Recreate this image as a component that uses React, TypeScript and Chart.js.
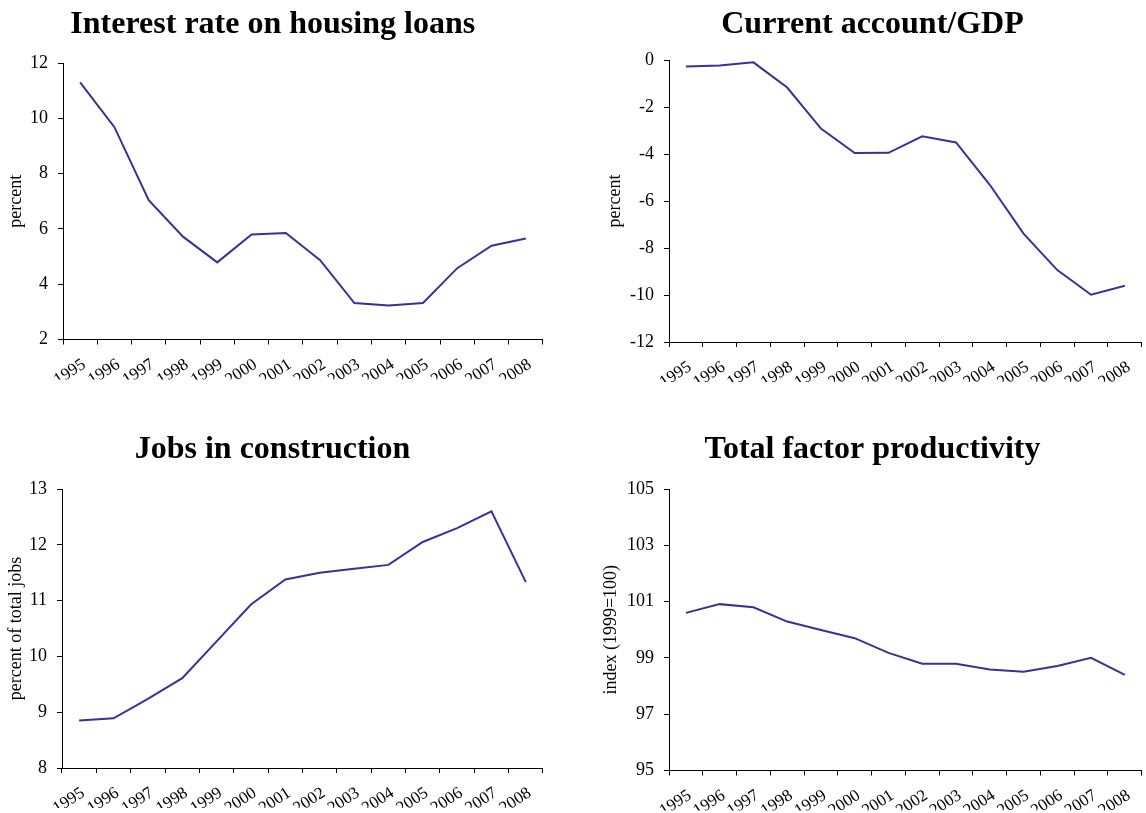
import { useEffect, useRef } from 'react';
import { Chart, registerables } from 'chart.js';

Chart.register(...registerables);

const years = ['1995', '1996', '1997', '1998', '1999', '2000', '2001', '2002', '2003', '2004', '2005', '2006', '2007', '2008'];

const interestRate = [11.3, 9.68, 7.04, 5.72, 4.79, 5.8, 5.85, 4.87, 3.32, 3.23, 3.32, 4.58, 5.39, 5.65];
const currentAccount = [-0.28, -0.23, -0.1, -1.17, -2.92, -3.96, -3.95, -3.25, -3.51, -5.31, -7.39, -8.94, -9.99, -9.61];
const constructionJobs = [8.85, 8.89, 9.24, 9.61, 10.27, 10.93, 11.38, 11.5, 11.57, 11.64, 12.05, 12.3, 12.6, 11.33];
const tfpIndex = [100.6, 100.91, 100.8, 100.29, 99.99, 99.7, 99.18, 98.79, 98.79, 98.59, 98.51, 98.71, 99.0, 98.4];

const titles = ['Interest rate on housing loans', 'Current account/GDP', 'Jobs in construction', 'Total factor productivity'];
const yLabels = ['percent', 'percent', 'percent of total jobs', 'index (1999=100)'];

const FONT = "'Liberation Serif', 'Times New Roman', serif";
const LINE_COLOR = '#333399';

type Panel = {
  title: string;
  yLabel: string;
  data: number[];
  yMin: number;
  yMax: number;
  yStep: number;
  cx: number; cy: number; cw: number; ch: number;
  left: number; right: number; top: number; bottom: number;
  titleTop: number;
  yTitlePad: number;
};

const panels: Panel[] = [
  { title: titles[0], yLabel: yLabels[0], data: interestRate, yMin: 2, yMax: 12, yStep: 2,
    cx: 0, cy: 0, cw: 547, ch: 406, left: 63, right: 545.5, top: 63, bottom: 339.5, titleTop: 6, yTitlePad: 5 },
  { title: titles[1], yLabel: yLabels[1], data: currentAccount, yMin: -12, yMax: 0, yStep: 2,
    cx: 600, cy: 0, cw: 546, ch: 406, left: 669, right: 1145, top: 60, bottom: 342, titleTop: 6, yTitlePad: 4 },
  { title: titles[2], yLabel: yLabels[2], data: constructionJobs, yMin: 8, yMax: 13, yStep: 1,
    cx: 0, cy: 406, cw: 547, ch: 407, left: 62, right: 545, top: 489, bottom: 768, titleTop: 25, yTitlePad: 5 },
  { title: titles[3], yLabel: yLabels[3], data: tfpIndex, yMin: 95, yMax: 105, yStep: 2,
    cx: 600, cy: 406, cw: 546, ch: 407, left: 669, right: 1145, top: 489, bottom: 770.5, titleTop: 25, yTitlePad: 0.5 },
];

const TITLE_SIZE = 32;
const TITLE_LH = TITLE_SIZE * 1.2;
const X_AXIS_H = 40;

function ChartPanel({ p }: { p: Panel }) {
  const ref = useRef<HTMLCanvasElement | null>(null);
  useEffect(() => {
    if (!ref.current) return;
    const yWidth = p.left - p.cx;
    const padRight = p.cx + p.cw - p.right;
    const padBottom = p.cy + p.ch - p.bottom - X_AXIS_H;
    const titleBottom = p.top - p.cy - p.titleTop - TITLE_LH;
    const chart = new Chart(ref.current, {
      type: 'line',
      data: {
        labels: years,
        datasets: [{
          data: p.data,
          borderColor: LINE_COLOR,
          backgroundColor: LINE_COLOR,
          borderWidth: 2,
          pointRadius: 0,
          tension: 0,
          fill: false,
        }],
      },
      options: {
        responsive: false,
        animation: false,
        devicePixelRatio: 1,
        layout: { padding: { left: 0, right: padRight, top: 0, bottom: padBottom } },
        plugins: {
          legend: { display: false },
          tooltip: { enabled: false },
          title: {
            display: true,
            text: p.title,
            color: '#000',
            font: { family: FONT, size: TITLE_SIZE, weight: 'bold', lineHeight: 1.2 },
            padding: { top: p.titleTop, bottom: titleBottom },
          },
        },
        scales: {
          x: {
            type: 'category',
            offset: true,
            afterFit: (s: any) => { s.height = X_AXIS_H; },
            grid: { display: true, drawOnChartArea: false, drawTicks: true, tickLength: 5, color: '#000', offset: true },
            border: { display: true, color: '#000', width: 1 },
            ticks: {
              autoSkip: false,
              minRotation: 33,
              maxRotation: 33,
              padding: 10,
              labelOffset: 4,
              color: '#000',
              font: { family: FONT, size: 17 },
            },
          },
          y: {
            min: p.yMin,
            max: p.yMax,
            afterFit: (s: any) => { s.width = yWidth; },
            grid: { display: true, drawOnChartArea: false, drawTicks: true, tickLength: 5, color: '#000' },
            border: { display: true, color: '#000', width: 1 },
            ticks: {
              stepSize: p.yStep,
              padding: 10,
              color: '#000',
              font: { family: FONT, size: 18 },
            },
            title: {
              display: true,
              text: p.yLabel,
              color: '#000',
              font: { family: FONT, size: 18, lineHeight: 1.2 },
              padding: { top: p.yTitlePad, bottom: 0 },
            },
          },
        },
      },
    } as any);
    return () => chart.destroy();
  }, [p]);
  return (
    <canvas
      ref={ref}
      width={p.cw}
      height={p.ch}
      style={{ position: 'absolute', left: p.cx, top: p.cy, width: p.cw, height: p.ch }}
    />
  );
}

export default function App() {
  return (
    <div style={{ position: 'absolute', left: 0, top: 0, width: 1146, height: 813, background: '#fff' }}>
      {panels.map((p, i) => <ChartPanel key={i} p={p} />)}
    </div>
  );
}
